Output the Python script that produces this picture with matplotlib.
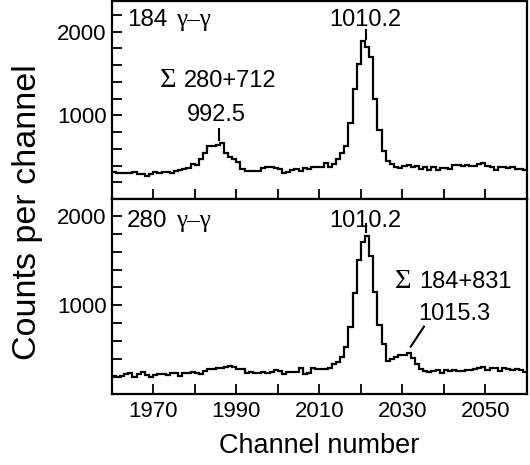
import numpy as np
import matplotlib
matplotlib.use('Agg')
from matplotlib import pyplot as plt
from matplotlib.ticker import MultipleLocator, FixedLocator

plt.rcParams['font.family'] = ['Liberation Sans', 'DejaVu Sans']

# channel bin edges and counts per channel
edges = np.arange(1960, 2061)

counts_184 = [330, 310, 310, 315, 310, 320, 305, 300, 280, 300,
              320, 315, 325, 320, 310, 340, 350, 355, 370, 420,
              410, 480, 550, 640, 640, 645, 665, 550, 500, 480,
              440, 360, 340, 335, 340, 340, 370, 380, 385, 375,
              360, 310, 330, 350, 360, 340, 370, 360, 380, 385,
              380, 430, 390, 420, 480, 550, 630, 910, 1310, 1610,
              1890, 1820, 1700, 1200, 830, 580, 460, 420, 390, 370,
              400, 410, 380, 395, 360, 390, 350, 390, 345, 375,
              370, 365, 405, 410, 400, 405, 400, 400, 420, 430,
              400, 390, 345, 380, 380, 375, 380, 360, 360, 345]

counts_280 = [210, 200, 210, 225, 240, 200, 225, 245, 215, 200,
              215, 225, 225, 220, 240, 240, 205, 235, 240, 245,
              235, 225, 265, 285, 280, 300, 295, 310, 315, 310,
              285, 280, 240, 254, 236, 240, 245, 240, 250, 270,
              265, 225, 250, 255, 245, 290, 230, 235, 290, 285,
              285, 280, 290, 345, 365, 422, 535, 760, 1142, 1509,
              1715, 1779, 1554, 1153, 780, 565, 370, 395, 420, 440,
              445, 460, 405, 340, 285, 265, 245, 265, 270, 240,
              270, 265, 270, 265, 265, 270, 275, 280, 300, 305,
              275, 300, 290, 260, 290, 280, 270, 285, 270, 255]

x_labels = [1970, 1990, 2010, 2030, 2050]
y_labels = [1000, 2000]

fig = plt.figure(figsize=(5.3, 4.65), dpi=100)
ax1 = fig.add_axes([0.2108, 0.5716, 0.7835, 0.4252])
ax2 = fig.add_axes([0.2108, 0.152, 0.7835, 0.4196], sharex=ax1)

ax1.stairs(counts_184, edges, baseline=None, color='black', lw=1.6)
ax2.stairs(counts_280, edges, baseline=None, color='black', lw=1.6)

ax1.set_ylim(0, 2360)
ax2.set_ylim(0, 2190)
ax1.set_xlim(1960, 2060)

for ax in (ax1, ax2):
    ax.xaxis.set_major_locator(FixedLocator(x_labels))
    ax.xaxis.set_minor_locator(MultipleLocator(10))
    ax.yaxis.set_major_locator(FixedLocator(y_labels))
    ax.yaxis.set_minor_locator(MultipleLocator(200))
    ax.tick_params(which='both', direction='in', length=7, width=1.3,
                   labelsize=16, top=False, right=False)
    ax.tick_params(axis='x', pad=5)
    for s in ax.spines.values():
        s.set_linewidth(1.6)
ax1.tick_params(labelbottom=False)

serif = ['Liberation Serif', 'DejaVu Serif']
fs = 17

# upper panel texts
ax1.text(1963.7, 2066, '184', fontsize=17.5)
ax1.text(1975.6, 2066, 'γ–γ', fontsize=18, family=serif)
ax1.text(2021.1, 2066, '1010.2', fontsize=fs, ha='center')
ax1.plot([2021.3, 2021.3], [1910, 2020], color='black', lw=1.5)
ax1.text(1971.6, 1340, 'Σ', fontsize=20.5, family=serif)
ax1.text(1988.6, 1340, '280+712', fontsize=fs, ha='center')
ax1.text(1985.3, 928, '992.5', fontsize=fs, ha='center')
ax1.plot([1985.9, 1985.9], [709, 837], color='black', lw=1.5)

# lower panel texts
ax2.text(1963.7, 1883, '280', fontsize=17.5)
ax2.text(1975.6, 1883, 'γ–γ', fontsize=18, family=serif)
ax2.text(2021.1, 1883, '1010.2', fontsize=fs, ha='center')
ax2.plot([2021.3, 2021.3], [1823, 1913], color='black', lw=1.5)
ax2.text(2028.3, 1191, 'Σ', fontsize=20.5, family=serif)
ax2.text(2045.3, 1191, '184+831', fontsize=fs, ha='center')
ax2.text(2042.6, 835, '1015.3', fontsize=fs, ha='center')
ax2.plot([2035.2, 2032.0], [760, 535], color='black', lw=1.5)

ax2.set_xlabel('Channel number', fontsize=19.5, labelpad=8)
fig.text(0.051, 0.543, 'Counts per channel', rotation=90, fontsize=24.5,
         ha='center', va='center')

fig.savefig('out.png', dpi=100)
